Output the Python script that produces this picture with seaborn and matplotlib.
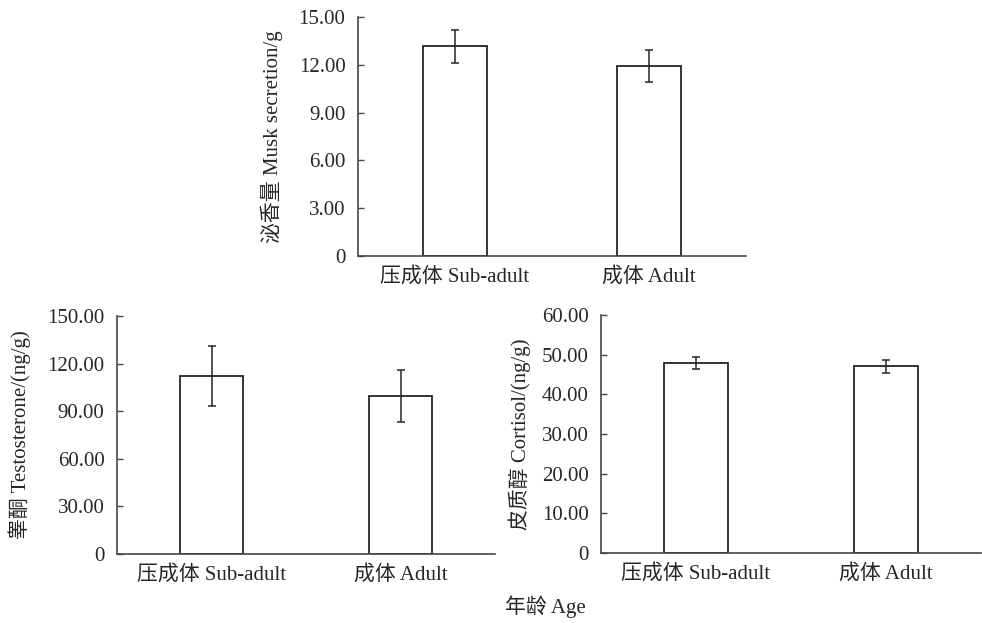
import matplotlib

matplotlib.use("Agg")
import matplotlib.pyplot as plt
import pandas as pd
import seaborn as sns

groups = ["压成体 Sub-adult", "成体 Adult"]

musk_mean = [13.15, 11.92]
musk_err = [1.03, 1.03]

testo_mean = [112.0, 99.6]
testo_err = [18.9, 16.3]

cort_mean = [47.9, 47.1]
cort_err = [1.5, 1.6]

musk_ticks = [0, 3, 6, 9, 12, 15]
testo_ticks = [0, 30, 60, 90, 120, 150]
cort_ticks = [0, 10, 20, 30, 40, 50, 60]

sns.set_theme(style="white")
plt.rcParams["font.family"] = ["Liberation Serif", "Noto Sans CJK SC"]
plt.rcParams["axes.unicode_minus"] = False

W, H = 982, 623
fig = plt.figure(figsize=(W / 100, H / 100), dpi=100)


def make_ax(left, right, top, bottom):
    return fig.add_axes([left / W, 1 - bottom / H, (right - left) / W, (bottom - top) / H])


edge = "#2b2222"
spine = "#4a4444"
fs = 15


def draw(ax, means, errs, ticks, ylabel, label_x):
    df = pd.DataFrame({"group": groups, "value": means})
    sns.barplot(data=df, x="group", y="value", ax=ax, color="white",
                edgecolor=edge, linewidth=1.3, width=1 / 3, errorbar=None)
    ax.errorbar(range(len(means)), means, yerr=errs, fmt="none",
                ecolor=edge, elinewidth=1.1, capsize=2.7, capthick=1.1)
    ax.set_xlim(-0.5, 1.5)
    ax.set_ylim(ticks[0], ticks[-1])
    ax.set_yticks(ticks)
    ax.set_yticklabels(["0" if t == 0 else f"{t:.2f}" for t in ticks], fontsize=fs)
    ax.tick_params(axis="y", direction="in", length=4, width=1, color=spine, pad=9, left=True)
    ax.tick_params(axis="x", length=0, labelsize=fs, pad=8)
    ax.set_xlabel("")
    ax.set_ylabel(ylabel, fontsize=fs)
    ax.yaxis.set_label_coords(label_x, 0.5)
    for s in ["top", "right"]:
        ax.spines[s].set_visible(False)
    for s in ["left", "bottom"]:
        ax.spines[s].set_color(spine)
        ax.spines[s].set_linewidth(1.2)
    ax.set_facecolor("white")


ax1 = make_ax(358, 746, 17, 256)
draw(ax1, musk_mean, musk_err, musk_ticks, "泌香量 Musk secretion/g", -0.193)

ax2 = make_ax(117, 495, 316, 554)
draw(ax2, testo_mean, testo_err, testo_ticks, "睾酮 Testosterone/(ng/g)", -0.228)

ax3 = make_ax(601, 981, 315, 553)
draw(ax3, cort_mean, cort_err, cort_ticks, "皮质醇 Cortisol/(ng/g)", -0.185)

fig.text(545 / W, 1 - 607 / H, "年龄 Age", ha="center", va="center", fontsize=fs)

fig.savefig("out.png", dpi=100, facecolor="white")
